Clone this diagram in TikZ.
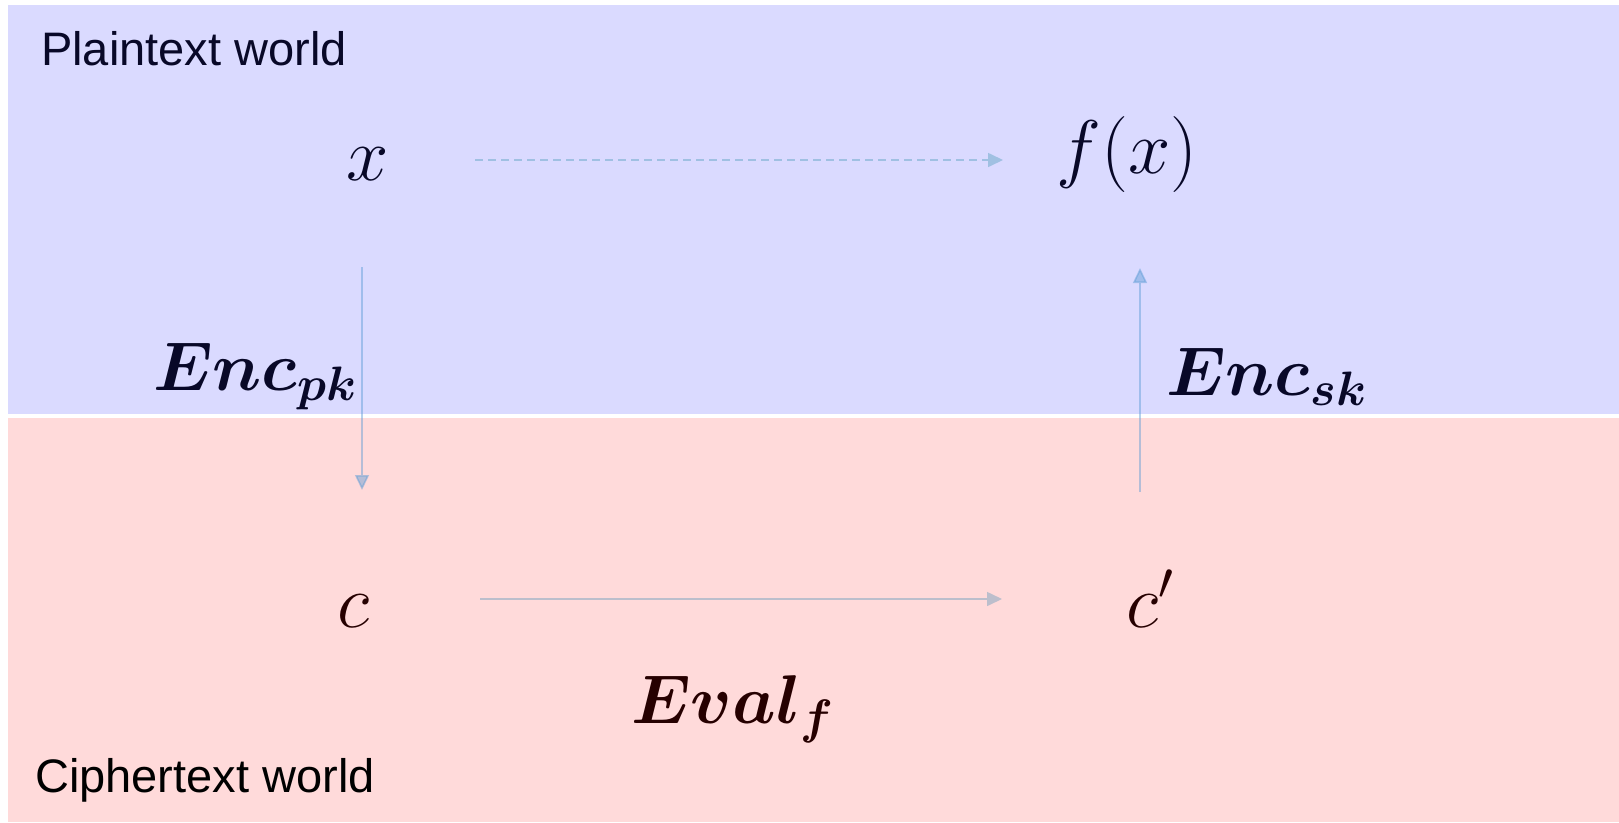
\documentclass[tikz,border=0pt]{standalone}
\usepackage{fix-cm}
\usepackage{amsmath,bm}
\usepackage{fontspec}
\newfontfamily\arialfont{Liberation Sans}
\usetikzlibrary{arrows.meta}
\definecolor{plainbg}{RGB}{218,218,255}
\definecolor{cipherbg}{RGB}{255,218,218}
\definecolor{navyink}{RGB}{8,8,40}
\definecolor{maroonink}{RGB}{38,0,0}
\definecolor{arrblue}{RGB}{160,192,226}
\definecolor{arrmid}{RGB}{91,155,213}
\definecolor{arrgray}{RGB}{188,190,204}
\tikzset{
  worldlbl/.style={anchor=base west, inner sep=0pt, font=\arialfont\fontsize{47}{56}\selectfont},
  mathsym/.style={anchor=base, inner sep=0pt, font=\fontsize{76}{90}\selectfont},
  oplbl/.style={anchor=base west, inner sep=0pt, font=\fontsize{69}{83}\selectfont},
  arr/.style={line width=1.6pt, -{Triangle[length=15pt,width=14pt]}},
}
\begin{document}
\begin{tikzpicture}[x=1pt,y=-1pt]
\useasboundingbox (0,0) rectangle (1619,822);
\fill[white] (0,0) rectangle (1619,822);
\fill[plainbg] (8,5) rectangle (1619,414);
\fill[cipherbg] (8,418) rectangle (1619,822);

\node[worldlbl, text=navyink] (pw) at (41,65) {Plaintext world};
\node[worldlbl, text=black] (cw) at (35,792) {Ciphertext world};

\node[mathsym, text=navyink] (x) at (368,180) {$x$};
\node[mathsym, text=navyink] (fx) at (1127,173) {$f(x)$};
\node[mathsym, text=maroonink] (c) at (354,627) {$c$};
\node[mathsym, text=maroonink] (cp) at (1150,627) {$c'$};

\node[oplbl, text=navyink] (encpk) at (153,390) {$\bm{Enc_{pk}}$};
\node[oplbl, text=navyink] (encsk) at (1166,395) {$\bm{Enc_{sk}}$};
\node[oplbl, text=maroonink] (evalf) at (631,723) {$\bm{Eval_{f}}$};

\coordinate (colL) at (362,0);
\coordinate (colR) at (1140,0);
\coordinate (rowT) at (0,160);
\coordinate (rowB) at (0,599);

\draw[arr, arrblue, dashed, dash pattern=on 8pt off 5pt, shorten <=107pt, shorten >=124pt]
  (x |- rowT) -- (fx |- rowT);
\draw[arr, arrmid, opacity=0.45, shorten <=87pt, shorten >=137pt]
  (x.base -| colL) -- (c.base -| colL);
\draw[arr, arrmid, opacity=0.45, shorten <=135pt, shorten >=95pt]
  (cp.base -| colR) -- (fx.base -| colR);
\draw[arr, arrgray, shorten <=126pt, shorten >=148pt]
  (c |- rowB) -- (cp |- rowB);
\end{tikzpicture}
\end{document}
